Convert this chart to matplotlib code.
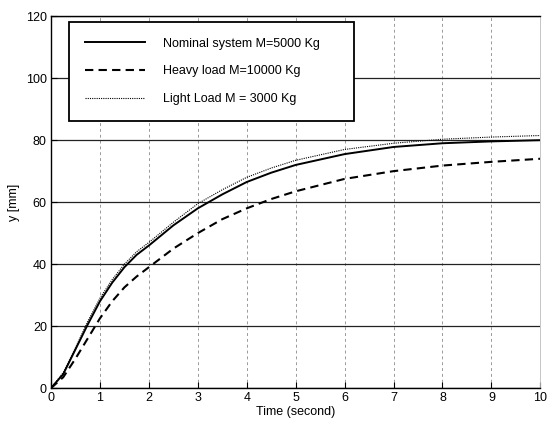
import numpy as np
import matplotlib.pyplot as plt

plt.rcParams['font.family'] = ['Liberation Sans', 'DejaVu Sans']

t = [0, 0.25, 0.5, 0.75, 1, 1.25, 1.5, 1.75, 2, 2.5, 3, 3.5, 4, 4.5, 5, 6, 7, 8, 9, 10]
nominal = [0, 4.5, 12.5, 20.5, 28, 34, 39, 43, 46, 52.5, 58, 62.5, 66.5, 69.5, 72, 75.5, 77.8, 79, 79.6, 80]
heavy = [0, 3.5, 9.5, 16, 22.5, 28, 32.5, 36, 39, 45, 50, 54.5, 58, 61, 63.5, 67.5, 70, 71.8, 73, 74]
light = [0, 5, 13, 21.5, 29, 35, 40, 44, 47, 53.5, 59.5, 64, 68, 71, 73.5, 77, 79, 80.3, 81, 81.5]

labels = ["Nominal system M=5000 Kg", "Heavy load M=10000 Kg", "Light Load M = 3000 Kg"]
xticks = list(range(0, 11))
yticks = list(range(0, 121, 20))

fig = plt.figure(figsize=(5.58, 4.26), dpi=100)
ax = fig.add_axes([0.0914, 0.089, 0.877, 0.873])

ax.plot(t, nominal, color='black', lw=1.4, ls='-', label=labels[0])
ax.plot(t, heavy, color='black', lw=1.5, ls=(0, (4, 2.5)), label=labels[1])
ax.plot(t, light, color='black', lw=0.8, ls=(0, (1, 1)), label=labels[2])

ax.set_xlim(0, 10)
ax.set_ylim(0, 120)
ax.set_xticks(xticks)
ax.set_yticks(yticks)
ax.tick_params(direction='in', labelsize=9, length=4, width=0.8, pad=3)

# grid: horizontal lines come out dark in the scan, vertical ones dotted
ax.yaxis.grid(True, color='#222222', lw=0.9, ls='-')
ax.xaxis.grid(True, color='#999999', lw=0.7, ls=(0, (3, 3)))
ax.set_axisbelow(True)

for s in ['left', 'bottom', 'top']:
    ax.spines[s].set_linewidth(1.0)
ax.spines['right'].set_color('#bbbbbb')
ax.spines['right'].set_linewidth(0.6)

ax.set_xlabel("Time (second)", fontsize=9, labelpad=1)
ax.set_ylabel("y [mm]", fontsize=9, labelpad=4)

leg = ax.legend(loc='upper left', bbox_to_anchor=(0.037, 0.984, 0.583, 0.0),
                mode='expand', borderaxespad=0, fontsize=9,
                handlelength=4.8, handletextpad=1.5, labelspacing=1.25,
                borderpad=1.25, fancybox=False, framealpha=1)
leg.get_frame().set_edgecolor('black')
leg.get_frame().set_linewidth(1.3)

fig.savefig('out.png', dpi=100)
